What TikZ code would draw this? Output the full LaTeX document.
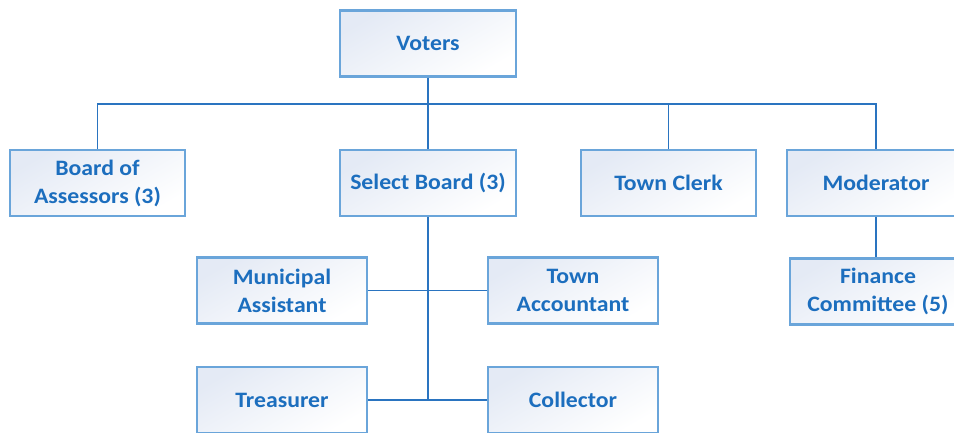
\documentclass[tikz,border=0pt]{standalone}
\usepackage{fontspec}
\newfontfamily\boxfont{Carlito}[FakeStretch=1.08]
\definecolor{txtblue}{HTML}{1C6EBE}
\definecolor{edgeblue}{HTML}{6AA5DA}
\definecolor{wireblue}{HTML}{2A74C0}
\definecolor{shadeblue}{HTML}{E4EAF5}
\begin{document}
\begin{tikzpicture}[x=1pt,y=-1pt,
  office/.style={rectangle, draw=edgeblue, line width=2.2pt,
    top color=shadeblue, bottom color=white, shading angle=30,
    minimum width=#1, minimum height=66pt, inner sep=0pt,
    align=center, text=txtblue,
    font=\boxfont\bfseries\fontsize{22}{28}\selectfont},
  office/.default=176pt,
  wire/.style={draw=wireblue, line width=1.8pt}]
\useasboundingbox (0,0) rectangle (954,432);
% offices
\node[office] (voters) at (428,43.5) {Voters};
\node[office=175pt] (assessors) at (97.5,183) {Board of\\Assessors (3)};
\node[office] (select) at (428,183) {Select Board (3)};
\node[office=175pt] (clerk) at (668.5,183) {Town Clerk};
\node[office=178pt] (moderator) at (876,183) {Moderator};
\node[office] (finance) at (878,291.5) {Finance\\Committee (5)};
\node[office=170pt] (municipal) at (282,290.5) {Municipal\\Assistant};
\node[office=170pt] (accountant) at (573,290.5) {Town\\Accountant};
\node[office=170pt] (treasurer) at (282,400) {Treasurer};
\node[office=170pt] (collector) at (573,400) {Collector};
% branch points
\coordinate (bus) at (428,104);
\coordinate (trunk) at (428,400);
% connectors
\draw[wire] (voters.south) -- (bus);
\draw[wire] (bus) -| (assessors.north);
\draw[wire] (bus) -- (select.north);
\draw[wire] (bus) -| (clerk.north);
\draw[wire] (bus) -| (moderator.north);
\draw[wire] (moderator.south) -- (finance.north -| moderator.south);
\draw[wire] (select.south) -- (trunk);
\draw[wire] (municipal.east) -- (accountant.west);
\draw[wire] (treasurer.east) -- (collector.west);
\end{tikzpicture}
\end{document}
